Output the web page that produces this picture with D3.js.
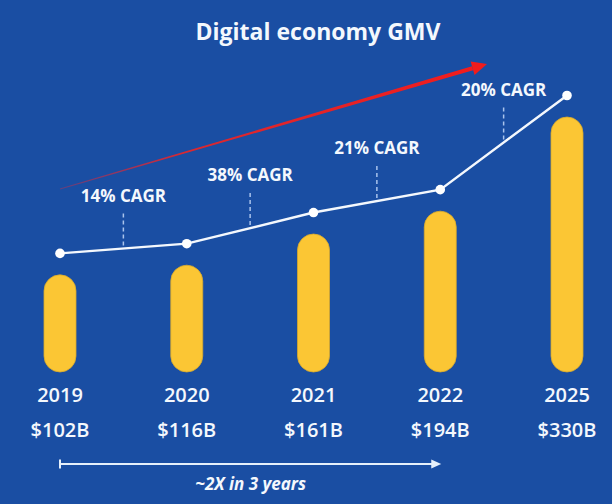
<!DOCTYPE html>
<html>
<head>
<meta charset="utf-8">
<script src="https://cdn.jsdelivr.net/npm/d3@7"></script>
<style>
html,body{margin:0;padding:0;background:#1a4ea3;}
svg{display:block;}
</style>
</head>
<body>
<svg id="chart" width="612" height="504"></svg>
<script>
// ---- data ----
const years = ["2019", "2020", "2021", "2022", "2025"];
const gmv = [102, 116, 161, 194, 330];
const valueLabels = ["$102B", "$116B", "$161B", "$194B", "$330B"];
const cagrLabels = ["14% CAGR", "38% CAGR", "21% CAGR", "20% CAGR"];
const title = "Digital economy GMV";
const footnote = "~2X in 3 years";

// ---- layout ----
const W = 612, H = 504;
const baseY = 372;          // bottom of the bars
const barW = 32;
const lineGap = 21.5;       // line points sit above bar tops
const svg = d3.select("#chart");
const FONT = "Open Sans, sans-serif";
const TXT = "#f4f8fd";

svg.append("rect").attr("width", W).attr("height", H).attr("fill", "#1a4ea3");

const x = d3.scalePoint().domain(years).range([60, 567]);
const y = d3.scaleLinear().domain([0, 330]).range([345.5, 117]);

const data = years.map((yr, i) => ({ yr, v: gmv[i], label: valueLabels[i] }));

// title
svg.append("text")
  .attr("x", 318).attr("y", 40)
  .attr("text-anchor", "middle")
  .attr("font-family", FONT)
  .attr("font-weight", 700)
  .attr("font-size", 23)
  .attr("fill", TXT)
  .text(title);

// red trend arrow
const defs = svg.append("defs");
const grad = defs.append("linearGradient").attr("id", "redGrad")
  .attr("x1", "0%").attr("x2", "100%").attr("y1", "0%").attr("y2", "0%");
grad.append("stop").attr("offset", "0%").attr("stop-color", "#e8263a").attr("stop-opacity", 0.35);
grad.append("stop").attr("offset", "30%").attr("stop-color", "#ee2424").attr("stop-opacity", 0.9);
grad.append("stop").attr("offset", "100%").attr("stop-color", "#f21c1c").attr("stop-opacity", 1);

const a0 = [x("2019"), 189], a1 = [487, 64];
const dx = a1[0] - a0[0], dy = a1[1] - a0[1];
const len = Math.hypot(dx, dy);
const ux = dx / len, uy = dy / len, nx = -uy, ny = ux;
const headLen = 15, headHalf = 7;
const hb = [a1[0] - ux * headLen, a1[1] - uy * headLen];
const w0 = 0.4, w1 = 2;
const shaft = [
  [a0[0] + nx * w0, a0[1] + ny * w0],
  [hb[0] + nx * w1, hb[1] + ny * w1],
  [hb[0] - nx * w1, hb[1] - ny * w1],
  [a0[0] - nx * w0, a0[1] - ny * w0]
];
svg.append("polygon")
  .attr("points", shaft.map(p => p.join(",")).join(" "))
  .attr("fill", "url(#redGrad)");
svg.append("polygon")
  .attr("points", [
    a1,
    [hb[0] + nx * headHalf, hb[1] + ny * headHalf],
    [hb[0] - nx * headHalf, hb[1] - ny * headHalf]
  ].map(p => p.join(",")).join(" "))
  .attr("fill", "#f21c1c");

// bars (pill shapes)
svg.selectAll("rect.bar").data(data).join("rect")
  .attr("class", "bar")
  .attr("x", d => x(d.yr) - barW / 2)
  .attr("y", d => y(d.v))
  .attr("width", barW)
  .attr("height", d => baseY - y(d.v))
  .attr("rx", barW / 2).attr("ry", barW / 2)
  .attr("fill", "#fbc634")
  .attr("stroke", "#d8a92c")
  .attr("stroke-width", 0.8);

// line
const pts = data.map(d => [x(d.yr), y(d.v) - lineGap]);
svg.append("path")
  .attr("d", d3.line()(pts))
  .attr("fill", "none")
  .attr("stroke", TXT)
  .attr("stroke-width", 2.4);

svg.selectAll("circle.pt").data(pts).join("circle")
  .attr("class", "pt")
  .attr("cx", d => d[0]).attr("cy", d => d[1])
  .attr("r", 4.8)
  .attr("fill", "#ffffff");

// CAGR labels with dashed connectors
cagrLabels.forEach((lab, i) => {
  const mx = (pts[i][0] + pts[i + 1][0]) / 2;
  const my = (pts[i][1] + pts[i + 1][1]) / 2;
  const by = my - 47;
  svg.append("line")
    .attr("x1", mx).attr("x2", mx)
    .attr("y1", by + 12).attr("y2", my)
    .attr("stroke", "#a9c3ec")
    .attr("stroke-width", 1.5)
    .attr("stroke-dasharray", "4,3");
  svg.append("text")
    .attr("x", mx).attr("y", by)
    .attr("text-anchor", "middle")
    .attr("font-family", FONT)
    .attr("font-weight", 700)
    .attr("font-size", 17)
    .attr("fill", TXT)
    .text(lab);
});

// category labels
svg.selectAll("text.yr").data(data).join("text")
  .attr("class", "yr")
  .attr("x", d => x(d.yr)).attr("y", 402)
  .attr("text-anchor", "middle")
  .attr("font-family", FONT)
  .attr("font-weight", 600)
  .attr("font-size", 20)
  .attr("fill", TXT)
  .text(d => d.yr);

svg.selectAll("text.val").data(data).join("text")
  .attr("class", "val")
  .attr("x", d => x(d.yr)).attr("y", 437)
  .attr("text-anchor", "middle")
  .attr("font-family", FONT)
  .attr("font-weight", 600)
  .attr("font-size", 20)
  .attr("fill", TXT)
  .text(d => d.label);

// bottom span arrow
const bx0 = x("2019"), bx1 = x("2022") + 1, byy = 464;
svg.append("line")
  .attr("x1", bx0).attr("x2", bx1 - 8).attr("y1", byy).attr("y2", byy)
  .attr("stroke", "#e6f0fb").attr("stroke-width", 2.2);
svg.append("line")
  .attr("x1", bx0).attr("x2", bx0).attr("y1", byy - 4.5).attr("y2", byy + 4.5)
  .attr("stroke", "#e6f0fb").attr("stroke-width", 2);
svg.append("polygon")
  .attr("points", [[bx1, byy], [bx1 - 10, byy - 4.5], [bx1 - 10, byy + 4.5]].map(p => p.join(",")).join(" "))
  .attr("fill", "#e6f0fb");

svg.append("text")
  .attr("x", (bx0 + bx1) / 2).attr("y", 490)
  .attr("text-anchor", "middle")
  .attr("font-family", FONT)
  .attr("font-weight", 700)
  .attr("font-style", "italic")
  .attr("font-size", 17)
  .attr("fill", TXT)
  .text(footnote);
</script>
</body>
</html>
